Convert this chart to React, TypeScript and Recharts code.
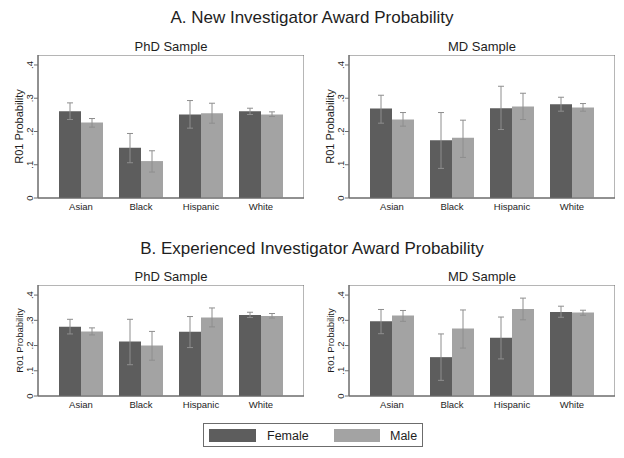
import React from 'react'
import { BarChart, Bar, XAxis, YAxis, CartesianGrid, ErrorBar } from 'recharts'

const categories = ['Asian', 'Black', 'Hispanic', 'White']
const yTicks = [0, 0.1, 0.2, 0.3, 0.4]

// A. New investigator, PhD sample
const newPhdFemale = [0.261, 0.151, 0.251, 0.261]
const newPhdFemaleLo = [0.236, 0.106, 0.21, 0.251]
const newPhdFemaleHi = [0.286, 0.194, 0.293, 0.27]
const newPhdMale = [0.227, 0.111, 0.255, 0.251]
const newPhdMaleLo = [0.213, 0.078, 0.225, 0.245]
const newPhdMaleHi = [0.239, 0.142, 0.285, 0.259]

// A. New investigator, MD sample
const newMdFemale = [0.269, 0.174, 0.27, 0.282]
const newMdFemaleLo = [0.225, 0.089, 0.206, 0.261]
const newMdFemaleHi = [0.309, 0.257, 0.336, 0.303]
const newMdMale = [0.236, 0.181, 0.275, 0.272]
const newMdMaleLo = [0.216, 0.122, 0.236, 0.261]
const newMdMaleHi = [0.257, 0.234, 0.315, 0.284]

// B. Experienced investigator, PhD sample
const expPhdFemale = [0.275, 0.216, 0.255, 0.321]
const expPhdFemaleLo = [0.246, 0.124, 0.192, 0.311]
const expPhdFemaleHi = [0.304, 0.304, 0.315, 0.332]
const expPhdMale = [0.256, 0.2, 0.311, 0.317]
const expPhdMaleLo = [0.242, 0.142, 0.274, 0.309]
const expPhdMaleHi = [0.27, 0.256, 0.349, 0.327]

// B. Experienced investigator, MD sample
const expMdFemale = [0.296, 0.154, 0.231, 0.333]
const expMdFemaleLo = [0.247, 0.062, 0.147, 0.312]
const expMdFemaleHi = [0.343, 0.246, 0.313, 0.356]
const expMdMale = [0.319, 0.268, 0.345, 0.331]
const expMdMaleLo = [0.296, 0.19, 0.302, 0.32]
const expMdMaleHi = [0.339, 0.341, 0.388, 0.34]

const FONT = '"Liberation Sans", Arial, Helvetica, sans-serif'
const FEMALE = '#5d5d5d'
const MALE = '#a3a3a3'
const WHISKER = '#8e8e8e'
const LINE = '#6c6c6c'
const INK = '#1e1e1e'

function buildRows(
  f: number[], fLo: number[], fHi: number[],
  m: number[], mLo: number[], mHi: number[],
) {
  return categories.map((name, i) => ({
    name,
    female: f[i],
    male: m[i],
    femaleErr: [f[i] - fLo[i], fHi[i] - f[i]],
    maleErr: [m[i] - mLo[i], mHi[i] - m[i]],
  }))
}

const newPhdRows = buildRows(newPhdFemale, newPhdFemaleLo, newPhdFemaleHi, newPhdMale, newPhdMaleLo, newPhdMaleHi)
const newMdRows = buildRows(newMdFemale, newMdFemaleLo, newMdFemaleHi, newMdMale, newMdMaleLo, newMdMaleHi)
const expPhdRows = buildRows(expPhdFemale, expPhdFemaleLo, expPhdFemaleHi, expPhdMale, expPhdMaleLo, expPhdMaleHi)
const expMdRows = buildRows(expMdFemale, expMdFemaleLo, expMdFemaleHi, expMdMale, expMdMaleLo, expMdMaleHi)

const fmtTick = (v: number) => (v === 0 ? '0' : String(v).replace(/^0/, ''))

function YTick(props: any) {
  const { x, y, payload } = props
  return (
    <text
      x={x}
      y={y}
      transform={`rotate(-90 ${x} ${y})`}
      textAnchor="middle"
      fontSize={9.5}
      fill={INK}
      fontFamily={FONT}
    >
      {fmtTick(payload.value)}
    </text>
  )
}

const AXIS_W = 38
const CHART_W = 304
const XAXIS_H = 20

interface PanelProps {
  rows: ReturnType<typeof buildRows>
  left: number
  top: number
  plotH: number
  yMax: number
  subtitle: string
  labelSize: number
}

function Panel({ rows, left, top, plotH, yMax, subtitle, labelSize }: PanelProps) {
  const yLabel = (p: any) => {
    const vb = p?.viewBox ?? { x: 0, y: 0, height: plotH }
    const cx = vb.x + 23
    const cy = vb.y + vb.height / 2
    return (
      <text
        x={cx}
        y={cy}
        transform={`rotate(-90 ${cx} ${cy})`}
        textAnchor="middle"
        fontSize={labelSize}
        fill={INK}
        fontFamily={FONT}
      >
        R01 Probability
      </text>
    )
  }

  return (
    <>
      <div
        style={{
          position: 'absolute',
          left: left + AXIS_W,
          top: top - 15,
          width: CHART_W - AXIS_W,
          textAlign: 'center',
          fontFamily: FONT,
          fontSize: 13,
          lineHeight: '13px',
          color: INK,
        }}
      >
        {subtitle}
      </div>
      <div style={{ position: 'absolute', left, top }}>
        <BarChart
          width={CHART_W}
          height={plotH + XAXIS_H}
          data={rows}
          margin={{ top: 0, right: 0, bottom: 0, left: 0 }}
          barGap={0}
          barSize={22}
        >
          <CartesianGrid
            stroke={LINE}
            horizontalCoordinatesGenerator={({ offset }: any) => [offset.top, offset.top + offset.height]}
            verticalCoordinatesGenerator={({ offset }: any) => [offset.left, offset.left + offset.width]}
          />
          <XAxis
            dataKey="name"
            padding={{ left: 13, right: 13 }}
            height={XAXIS_H}
            interval={0}
            tickSize={0}
            tickMargin={5}
            axisLine={{ stroke: LINE }}
            tick={{ fontSize: 9.5, fill: INK, fontFamily: FONT }}
          />
          <YAxis
            width={AXIS_W}
            domain={[0, yMax]}
            ticks={yTicks}
            allowDataOverflow
            tickSize={4}
            tickMargin={1}
            axisLine={{ stroke: LINE }}
            tickLine={{ stroke: LINE }}
            tick={<YTick />}
            label={yLabel}
          />
          <Bar dataKey="female" fill={FEMALE} isAnimationActive={false}>
            <ErrorBar dataKey="femaleErr" width={3} stroke={WHISKER} strokeWidth={1} direction="y" />
          </Bar>
          <Bar dataKey="male" fill={MALE} isAnimationActive={false}>
            <ErrorBar dataKey="maleErr" width={3} stroke={WHISKER} strokeWidth={1} direction="y" />
          </Bar>
        </BarChart>
      </div>
    </>
  )
}

const titleStyle: React.CSSProperties = {
  position: 'absolute',
  left: 0,
  width: 624,
  textAlign: 'center',
  fontFamily: FONT,
  fontSize: 17,
  lineHeight: '17px',
  color: INK,
}

export default function App() {
  return (
    <div
      style={{
        position: 'absolute',
        left: 0,
        top: 0,
        width: 624,
        height: 458,
        background: '#fff',
        overflow: 'hidden',
      }}
    >
      <div style={{ ...titleStyle, top: 9 }}>A. New Investigator Award Probability</div>
      <Panel rows={newPhdRows} left={0} top={55} plotH={143} yMax={0.43} subtitle="PhD Sample" labelSize={11} />
      <Panel rows={newMdRows} left={311} top={55} plotH={143} yMax={0.43} subtitle="MD Sample" labelSize={11} />

      <div style={{ ...titleStyle, top: 240 }}>B. Experienced Investigator Award Probability</div>
      <Panel rows={expPhdRows} left={0} top={285} plotH={111} yMax={0.44} subtitle="PhD Sample" labelSize={9.5} />
      <Panel rows={expMdRows} left={311} top={285} plotH={111} yMax={0.44} subtitle="MD Sample" labelSize={9.5} />

      <div
        style={{
          position: 'absolute',
          left: 203,
          top: 423,
          width: 220,
          height: 24,
          boxSizing: 'border-box',
          border: `1px solid ${LINE}`,
          fontFamily: FONT,
          fontSize: 12.5,
          lineHeight: '13px',
          color: INK,
        }}
      >
        <div style={{ position: 'absolute', left: 5, top: 5, width: 47, height: 13, background: FEMALE }} />
        <div style={{ position: 'absolute', left: 63, top: 6 }}>Female</div>
        <div style={{ position: 'absolute', left: 130, top: 5, width: 46, height: 13, background: MALE }} />
        <div style={{ position: 'absolute', left: 186, top: 6 }}>Male</div>
      </div>
    </div>
  )
}
